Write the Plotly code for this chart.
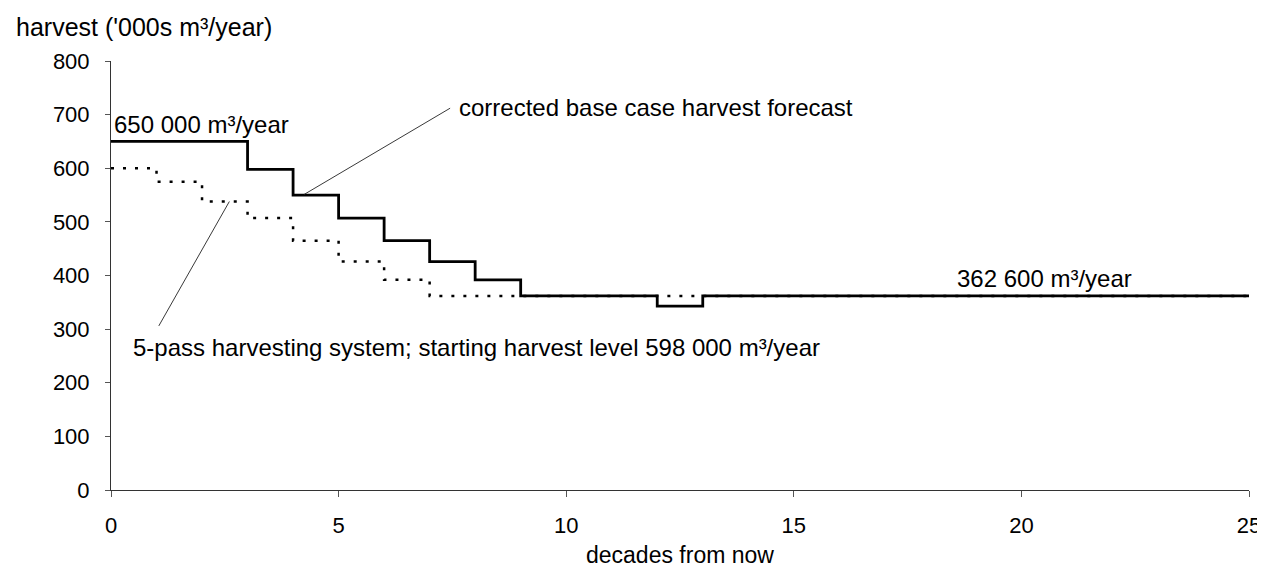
import plotly.graph_objects as go

# Data (decades from now, harvest in '000s m3/year), step values per decade 0..24
decades = list(range(0, 26))
base_case = [650, 650, 650, 598, 550, 507, 465, 426, 392, 362, 362, 362, 343,
             362, 362, 362, 362, 362, 362, 362, 362, 362, 362, 362, 362]
five_pass = [600, 575, 538, 507, 465, 426, 392, 362, 362, 362, 362, 362, 362,
             362, 362, 362, 362, 362, 362, 362, 362, 362, 362, 362, 362]
x_ticks = [0, 5, 10, 15, 20, 25]
y_ticks = [0, 100, 200, 300, 400, 500, 600, 700, 800]

FONT = "Arial, Liberation Sans, sans-serif"

fig = go.Figure()
fig.add_trace(go.Scatter(
    x=decades, y=five_pass + [five_pass[-1]], mode="lines", line_shape="hv",
    line=dict(color="black", width=2.5, dash="3px,9px"), hoverinfo="skip"))
fig.add_trace(go.Scatter(
    x=decades, y=base_case + [base_case[-1]], mode="lines", line_shape="hv",
    line=dict(color="black", width=2.8), hoverinfo="skip"))

# leader lines (data coordinates)
fig.add_shape(type="line", x0=4.24, y0=551, x1=7.45, y1=712, xref="x", yref="y",
              line=dict(color="#222", width=0.9))
fig.add_shape(type="line", x0=2.6, y0=538, x1=1.05, y1=306, xref="x", yref="y",
              line=dict(color="#222", width=0.9))

ann_font = dict(family=FONT, size=24, color="black")
fig.add_annotation(x=0.02, y=650, xref="x", yref="y", text="650 000 m³/year",
                   showarrow=False, xanchor="left", yanchor="bottom", yshift=1, font=ann_font)
fig.add_annotation(x=7.6, y=714, xref="x", yref="y", text="corrected base case harvest forecast",
                   showarrow=False, xanchor="left", yanchor="middle", font=ann_font)
fig.add_annotation(x=0.45, y=266, xref="x", yref="y",
                   text="5-pass harvesting system; starting harvest level 598 000 m³/year",
                   showarrow=False, xanchor="left", yanchor="middle", font=ann_font)
fig.add_annotation(x=18.55, y=362.6, xref="x", yref="y", text="362 600 m³/year",
                   showarrow=False, xanchor="left", yanchor="bottom", yshift=2, font=ann_font)

# axis titles
fig.add_annotation(x=-0.085, y=1.079, xref="paper", yref="paper",
                   text="harvest ('000s m³/year)", showarrow=False,
                   xanchor="left", yanchor="middle", font=dict(family=FONT, size=25, color="black"))
fig.add_annotation(x=0.5, y=-0.152, xref="paper", yref="paper",
                   text="decades from now", showarrow=False,
                   xanchor="center", yanchor="middle", font=dict(family=FONT, size=23, color="black"))

fig.update_layout(
    width=1265, height=571,
    margin=dict(l=103, r=22, t=53, b=89),
    paper_bgcolor="white", plot_bgcolor="white",
    showlegend=False,
    font=dict(family=FONT, color="black"),
)
fig.update_xaxes(range=[0, 25], tickvals=x_ticks, showgrid=False, zeroline=False,
                 showline=True, linecolor="#333", linewidth=1,
                 ticks="outside", ticklen=6, tickcolor="#555", ticklabelstandoff=10,
                 tickfont=dict(family=FONT, size=22, color="black"))
fig.update_yaxes(range=[0, 800], tickvals=y_ticks, showgrid=False, zeroline=False,
                 showline=True, linecolor="#333", linewidth=1,
                 ticks="outside", ticklen=5, tickcolor="#555", ticklabelstandoff=11,
                 tickfont=dict(family=FONT, size=22, color="black"))

fig.write_html("out.html")
